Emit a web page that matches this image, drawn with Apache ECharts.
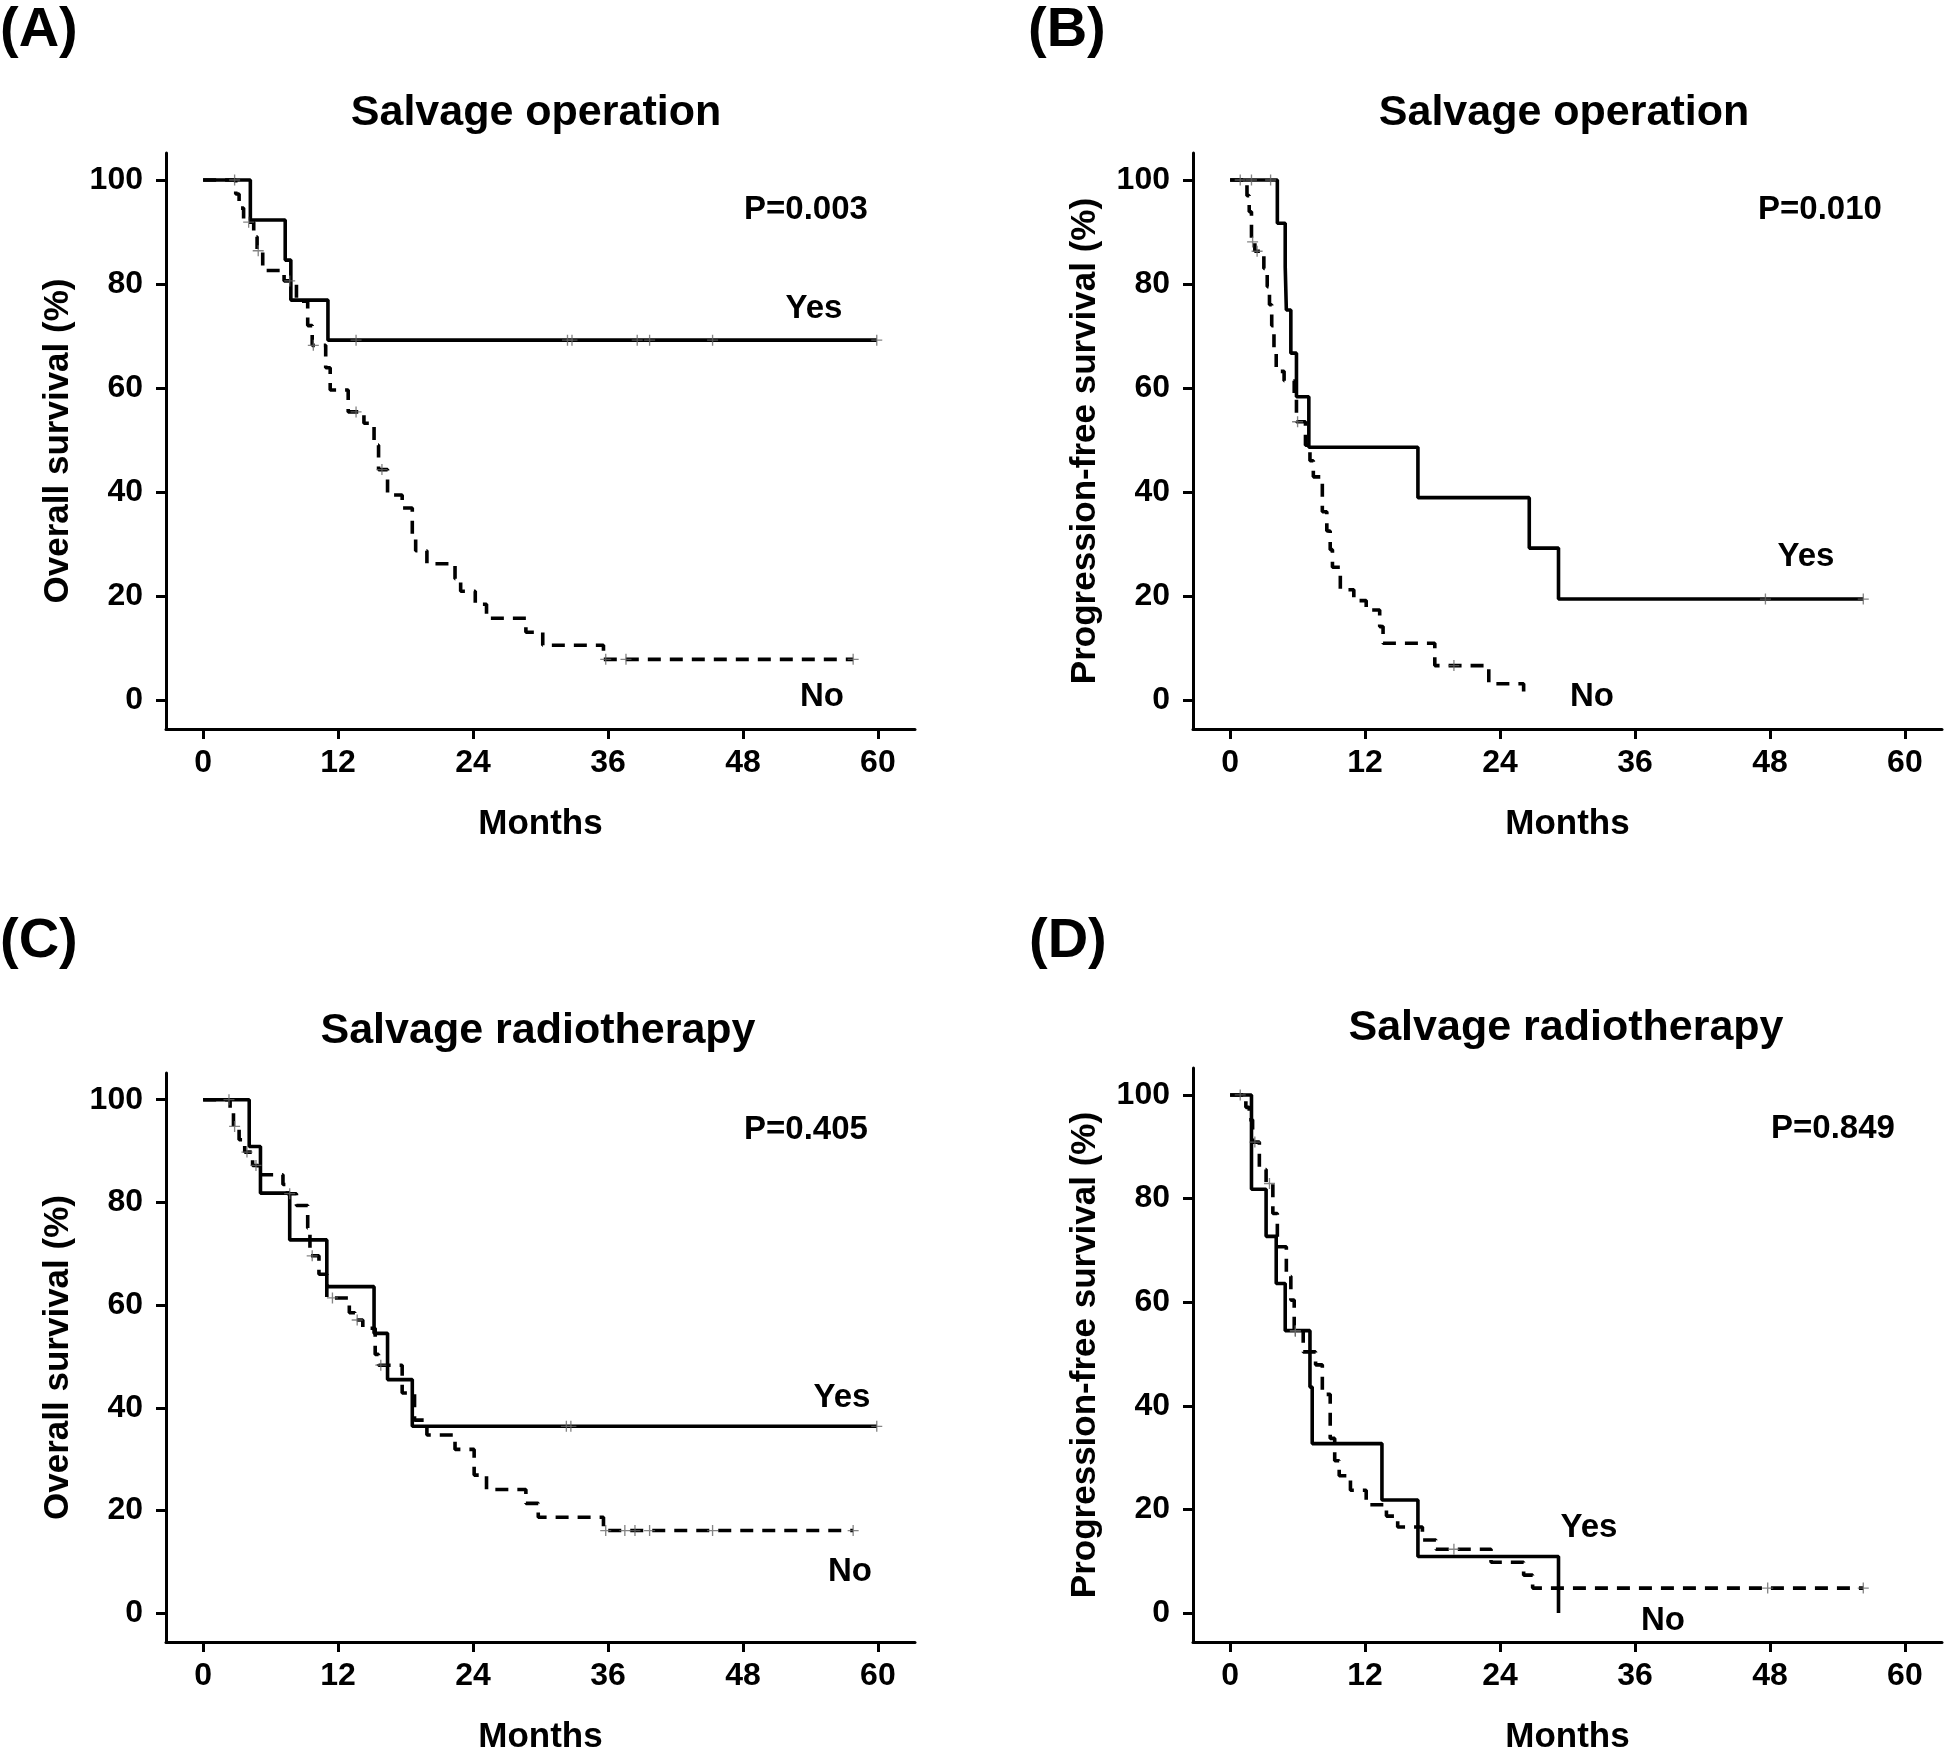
<!DOCTYPE html>
<html>
<head>
<meta charset="utf-8">
<script src="https://cdn.jsdelivr.net/npm/echarts@6/dist/echarts.min.js"></script>
<style>
html,body{margin:0;padding:0;background:#fff;}
#c{width:1944px;height:1756px;}
</style>
</head>
<body>
<div id="c"></div>
<script>
// ---- tick labels ----
const xTicks = [0, 12, 24, 36, 48, 60];
const yTicks = [0, 20, 40, 60, 80, 100];

// ---- Panel A: Salvage operation, overall survival ----
const A_yes_t = [0, 4.2, 7.3, 7.8, 11.1, 59.9];
const A_yes_s = [100, 92.3, 84.6, 76.9, 69.2, 69.2];
const A_yes_cens = [13.6, 32.4, 32.8, 38.6, 39.7, 45.3, 59.9];
const A_no_t = [0, 2.9, 3.2, 3.6, 4.5, 4.8, 5.3, 7.2, 8.3, 9.3, 9.7, 10.9, 11.3, 12.9, 14.3, 15.2, 15.6, 16.4, 17.7, 18.6, 18.9, 19.9, 22.4, 22.9, 24.2, 25.2, 28.7, 30.2, 35.6, 57.8];
const A_no_s = [100, 97.3, 94.6, 91.9, 89.1, 86.4, 82.6, 80.6, 76.7, 72.0, 68.2, 63.9, 59.6, 55.4, 53.2, 49.0, 44.3, 39.4, 36.9, 31.5, 28.7, 26.2, 23.3, 20.9, 18.4, 15.7, 13.0, 10.5, 7.8, 7.8];
const A_no_cens = [2.8, 4.05, 4.9, 7.7, 9.8, 13.6, 15.9, 35.8, 37.6, 57.8];

// ---- Panel B: Salvage operation, progression-free survival ----
const B_yes_t = [0, 4.2, 4.9, 5.0, 5.4, 5.9, 7.0, 16.7, 26.6, 29.2, 56.3];
const B_yes_s = [100, 91.7, 83.3, 75.0, 66.7, 58.3, 48.6, 38.9, 29.2, 19.4, 19.4];
const B_yes_cens = [0.9, 1.9, 3.6, 47.6, 56.3];
const B_no_t = [0, 1.5, 1.7, 1.9, 2.2, 3.0, 3.3, 3.5, 3.7, 3.9, 4.1, 4.8, 5.7, 5.9, 6.7, 7.1, 7.4, 8.2, 8.6, 8.9, 9.1, 9.8, 11.0, 12.1, 13.3, 13.6, 18.2, 23.0, 26.1];
const B_no_s = [100, 97.0, 93.9, 88.1, 86.3, 83.0, 79.5, 76.0, 72.0, 67.5, 63.2, 61.4, 58.2, 53.5, 49.0, 46.0, 42.9, 36.2, 32.5, 28.9, 25.5, 21.2, 19.1, 17.3, 14.1, 10.9, 6.6, 3.1, 0];
const B_no_cens = [2.0, 2.4, 6.0, 19.9];

// ---- Panel C: Salvage radiotherapy, overall survival ----
const C_yes_t = [0, 4.1, 5.1, 7.7, 11.0, 15.2, 16.4, 18.6, 59.9];
const C_yes_s = [100, 90.9, 81.8, 72.7, 63.6, 54.5, 45.5, 36.4, 36.4];
const C_yes_cens = [32.3, 32.7, 59.9];
const C_no_t = [0, 2.4, 2.7, 3.2, 3.7, 4.4, 4.9, 7.1, 7.5, 8.3, 9.3, 9.5, 10.3, 11.0, 13.0, 13.5, 14.2, 15.3, 15.6, 17.7, 18.8, 19.9, 22.4, 24.1, 25.2, 28.7, 29.8, 35.6, 57.8];
const C_no_s = [100, 97.4, 94.8, 92.2, 89.8, 87.2, 85.4, 83.5, 81.7, 79.4, 75.0, 69.6, 66.0, 61.4, 58.5, 57.1, 55.5, 50.4, 48.3, 42.9, 37.6, 34.7, 31.9, 26.9, 24.1, 21.4, 18.7, 16.1, 16.1];
const C_no_cens = [2.3, 2.8, 3.9, 4.7, 7.7, 9.7, 11.5, 13.7, 15.8, 35.8, 37.5, 38.4, 39.7, 45.3, 57.8];

// ---- Panel D: Salvage radiotherapy, progression-free survival ----
const D_yes_t = [0, 1.9, 3.2, 4.1, 4.9, 7.1, 7.3, 13.5, 16.7, 29.2];
const D_yes_s = [100, 81.8, 72.7, 63.6, 54.5, 43.6, 32.7, 21.8, 10.9, 0];
const D_yes_cens = [0.9, 5.8];
const D_no_t = [0, 1.4, 1.7, 2.0, 2.6, 3.2, 3.8, 4.2, 5.0, 5.4, 5.7, 6.5, 7.6, 8.2, 8.9, 9.3, 9.7, 10.7, 12.1, 13.9, 14.9, 17.1, 18.3, 23.2, 26.1, 26.9, 56.3];
const D_no_s = [100, 97.6, 95.2, 90.9, 85.6, 82.9, 77.1, 70.7, 65.0, 60.4, 54.4, 50.4, 47.9, 42.2, 33.7, 29.4, 26.5, 23.7, 20.9, 18.7, 16.6, 14.1, 12.3, 9.8, 7.3, 4.8, 4.8];
const D_no_cens = [2.2, 3.5, 5.8, 19.9, 47.8, 56.3];

// ---- texts ----
const titles = ['Salvage operation', 'Salvage operation', 'Salvage radiotherapy', 'Salvage radiotherapy'];
const panelLetters = ['(A)', '(B)', '(C)', '(D)'];
const yNames = ['Overall survival (%)', 'Progression-free survival (%)', 'Overall survival (%)', 'Progression-free survival (%)'];
const pValues = ['P=0.003', 'P=0.010', 'P=0.405', 'P=0.849'];

const panels = [
  {yt: A_yes_t, ys: A_yes_s, yc: A_yes_cens, nt: A_no_t, ns: A_no_s, nc: A_no_cens},
  {yt: B_yes_t, ys: B_yes_s, yc: B_yes_cens, nt: B_no_t, ns: B_no_s, nc: B_no_cens},
  {yt: C_yes_t, ys: C_yes_s, yc: C_yes_cens, nt: C_no_t, ns: C_no_s, nc: C_no_cens},
  {yt: D_yes_t, ys: D_yes_s, yc: D_yes_cens, nt: D_no_t, ns: D_no_s, nc: D_no_cens}
];

// layout (pixels)
const grids = [
  {left: 166, top: 153, width: 749, height: 576},
  {left: 1193, top: 153, width: 749, height: 576},
  {left: 166, top: 1073, width: 749, height: 576},
  {left: 1193, top: 1068, width: 749, height: 576}
];

const FONT = '"Liberation Sans", Arial, Helvetica, sans-serif';

function survAt(t, s, x) {
  let v = s[0];
  for (let i = 0; i < t.length; i++) { if (t[i] <= x) v = s[i]; }
  return v;
}

const PLUS = 'path://M-0.6,-5 H0.6 V-0.6 H5 V0.6 H0.6 V5 H-0.6 V0.6 H-5 V-0.6 H-0.6 Z';

const xAxes = [], yAxes = [], series = [];
panels.forEach((p, i) => {
  xAxes.push({
    type: 'value', gridIndex: i, min: -3.3, max: 63.3,
    splitLine: {show: false},
    axisLine: {show: true, onZero: false, lineStyle: {color: '#000', width: 3}},
    axisTick: {show: true, customValues: xTicks, length: 10, lineStyle: {color: '#000', width: 3}},
    axisLabel: {show: true, customValues: xTicks, margin: 18, color: '#000', fontSize: 32, fontWeight: 'bold', fontFamily: FONT},
    name: 'Months', nameLocation: 'middle', nameGap: 78,
    nameTextStyle: {color: '#000', fontSize: 35, fontWeight: 'bold', fontFamily: FONT}
  });
  yAxes.push({
    type: 'value', gridIndex: i, min: -5.6, max: 105.2,
    splitLine: {show: false},
    axisLine: {show: true, onZero: false, lineStyle: {color: '#000', width: 3}},
    axisTick: {show: true, customValues: yTicks, length: 10, lineStyle: {color: '#000', width: 3}},
    axisLabel: {show: true, customValues: yTicks, margin: 23, color: '#000', fontSize: 32, fontWeight: 'bold', fontFamily: FONT},
    name: yNames[i], nameLocation: 'middle', nameGap: 90,
    nameTextStyle: {color: '#000', fontSize: 35, fontWeight: 'bold', fontFamily: FONT}
  });
  series.push({
    type: 'line', xAxisIndex: i, yAxisIndex: i, step: 'end', showSymbol: false, silent: true,
    data: p.yt.map((t, k) => [t, p.ys[k]]),
    lineStyle: {color: '#000', width: 3.6, type: 'solid'}, z: 3
  });
  series.push({
    type: 'line', xAxisIndex: i, yAxisIndex: i, step: 'end', showSymbol: false, silent: true,
    data: p.nt.map((t, k) => [t, p.ns[k]]),
    lineStyle: {color: '#000', width: 3.6, type: [13, 9]}, z: 3
  });
  series.push({
    type: 'scatter', xAxisIndex: i, yAxisIndex: i, symbol: PLUS, symbolSize: 11, silent: true,
    itemStyle: {color: '#666'},
    data: p.yc.map(t => [t, survAt(p.yt, p.ys, t)]), z: 4
  });
  series.push({
    type: 'scatter', xAxisIndex: i, yAxisIndex: i, symbol: PLUS, symbolSize: 11, silent: true,
    itemStyle: {color: '#666'},
    data: p.nc.map(t => [t, survAt(p.nt, p.ns, t)]), z: 4
  });
});

function txt(text, x, y, size, align) {
  return {
    type: 'text', x: x, y: y, silent: true,
    style: {text: text, fill: '#000', font: 'bold ' + size + 'px ' + FONT,
      textAlign: align || 'center', textVerticalAlign: 'middle'}
  };
}

const graphic = [
  txt(panelLetters[0], 0, 31, 56, 'left'),
  txt(panelLetters[1], 1028, 31, 56, 'left'),
  txt(panelLetters[2], 0, 942, 56, 'left'),
  txt(panelLetters[3], 1029, 942, 56, 'left'),
  txt(titles[0], 536, 113, 43),
  txt(titles[1], 1564, 113, 43),
  txt(titles[2], 538, 1031, 43),
  txt(titles[3], 1566, 1028, 43),
  txt(pValues[0], 806, 210, 33),
  txt(pValues[1], 1820, 210, 33),
  txt(pValues[2], 806, 1130, 33),
  txt(pValues[3], 1833, 1129, 33),
  txt('Yes', 814, 309, 33), txt('No', 822, 697, 33),
  txt('Yes', 1806, 557, 33), txt('No', 1592, 697, 33),
  txt('Yes', 842, 1398, 33), txt('No', 850, 1572, 33),
  txt('Yes', 1589, 1528, 33), txt('No', 1663, 1621, 33)
];

const chart = echarts.init(document.getElementById('c'), null, {renderer: 'canvas'});
chart.setOption({
  animation: false,
  backgroundColor: '#fff',
  grid: grids.map(g => Object.assign({containLabel: false}, g)),
  xAxis: xAxes,
  yAxis: yAxes,
  series: series,
  graphic: graphic
});
</script>
</body>
</html>
